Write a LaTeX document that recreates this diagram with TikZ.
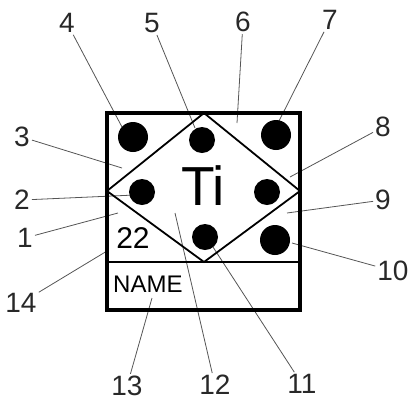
\documentclass[tikz,border=0pt]{standalone}
\usepackage{fontspec}
\setmainfont{Liberation Sans}
\usepackage{xcolor}
\usepackage{tikz}
\usetikzlibrary{positioning}
\definecolor{leadgray}{RGB}{85, 85, 85}
\definecolor{numgray}{RGB}{40, 40, 40}

\begin{document}
\begin{tikzpicture}[x=1pt, y=-1pt,
    frame/.style={draw=black, line width=3.6pt},
    rhomb/.style={draw=black, line width=1.8pt},
    dot/.style={circle, fill=black, inner sep=0pt, minimum size=26pt},
    bigdot/.style={dot, minimum size=30pt},
    num/.style={font=\fontsize{28}{28}\selectfont, inner sep=2pt, text=numgray},
    lead/.style={draw=leadgray, line width=0.8pt}
]
    \useasboundingbox (0,0) rectangle (415,408);

    % Label numbers
    \node[num] (n4) at (67,23) {4};
    \node[num] (n5) at (152,23) {5};
    \node[num] (n6) at (243,22) {6};
    \node[num] (n7) at (330,20) {7};
    \node[num] (n3) at (22,137) {3};
    \node[num] (n2) at (22,200) {2};
    \node[num] (n1) at (25,238) {1};
    \node[num] (n14) at (21,303) {14};
    \node[num] (n8) at (383,127) {8};
    \node[num] (n9) at (383,200) {9};
    \node[num] (n10) at (393,271) {10};
    \node[num] (n13) at (127,386) {13};
    \node[num] (n12) at (215,385) {12};
    \node[num] (n11) at (302,384) {11};

    % Points the lines go to
    \coordinate (p4) at (122,127);
    \coordinate (p5) at (195,128);
    \coordinate (p6) at (237,123);
    \coordinate (p7) at (278,123);
    \coordinate (p3) at (122,168);
    \coordinate (p2) at (135,195);
    \coordinate (p1) at (118,213);
    \coordinate (p14) at (107,251);
    \coordinate (p8) at (290,177);
    \coordinate (p9) at (287,213);
    \coordinate (p10) at (292,243);
    \coordinate (p13) at (152,298);
    \coordinate (p12) at (175,213);
    \coordinate (p11) at (213,247);

    % Leader lines
    \draw[lead] (n4) -- (p4);
    \draw[lead] (n5) -- (p5);
    \draw[lead] (n6) -- (p6);
    \draw[lead] (n7) -- (p7);
    \draw[lead] (n3) -- (p3);
    \draw[lead] (n2) -- (p2);
    \draw[lead] (n1) -- (p1);
    \draw[lead] (n14) -- (p14);
    \draw[lead] (n8) -- (p8);
    \draw[lead] (n9) -- (p9);
    \draw[lead] (n10) -- (p10);
    \draw[lead] (n13) -- (p13);
    \draw[lead] (n12) -- (p12);
    \draw[lead] (n11) -- (p11);

    % Element box
    \draw[rhomb] (204,113) -- (300,191) -- (204,262) -- (107,191) -- cycle;
    \draw[draw=black, line width=2.4pt] (107,262) -- (300,262);
    \draw[frame] (107,113) rectangle (300,310);

    % Dots
    \node[bigdot] (d-tl) at (133,137) {};
    \node[dot] (d-tm) at (202,140) {};
    \node[bigdot] (d-tr) at (276,135) {};
    \node[dot] (d-ml) at (142,192) {};
    \node[dot] (d-mr) at (267,192) {};
    \node[dot] (d-bm) at (205,237) {};
    \node[bigdot] (d-br) at (275,240) {};

    % Texts
    \node[font=\fontsize{55}{60}\selectfont] (sym) at (203,186) {Ti};
    \node[font=\fontsize{30}{30}\selectfont] (znum) at (133,238) {22};
    \node[font=\fontsize{24}{24}\selectfont, anchor=west, inner sep=0pt] (ename) at (113,284) {NAME};
\end{tikzpicture}
\end{document}
